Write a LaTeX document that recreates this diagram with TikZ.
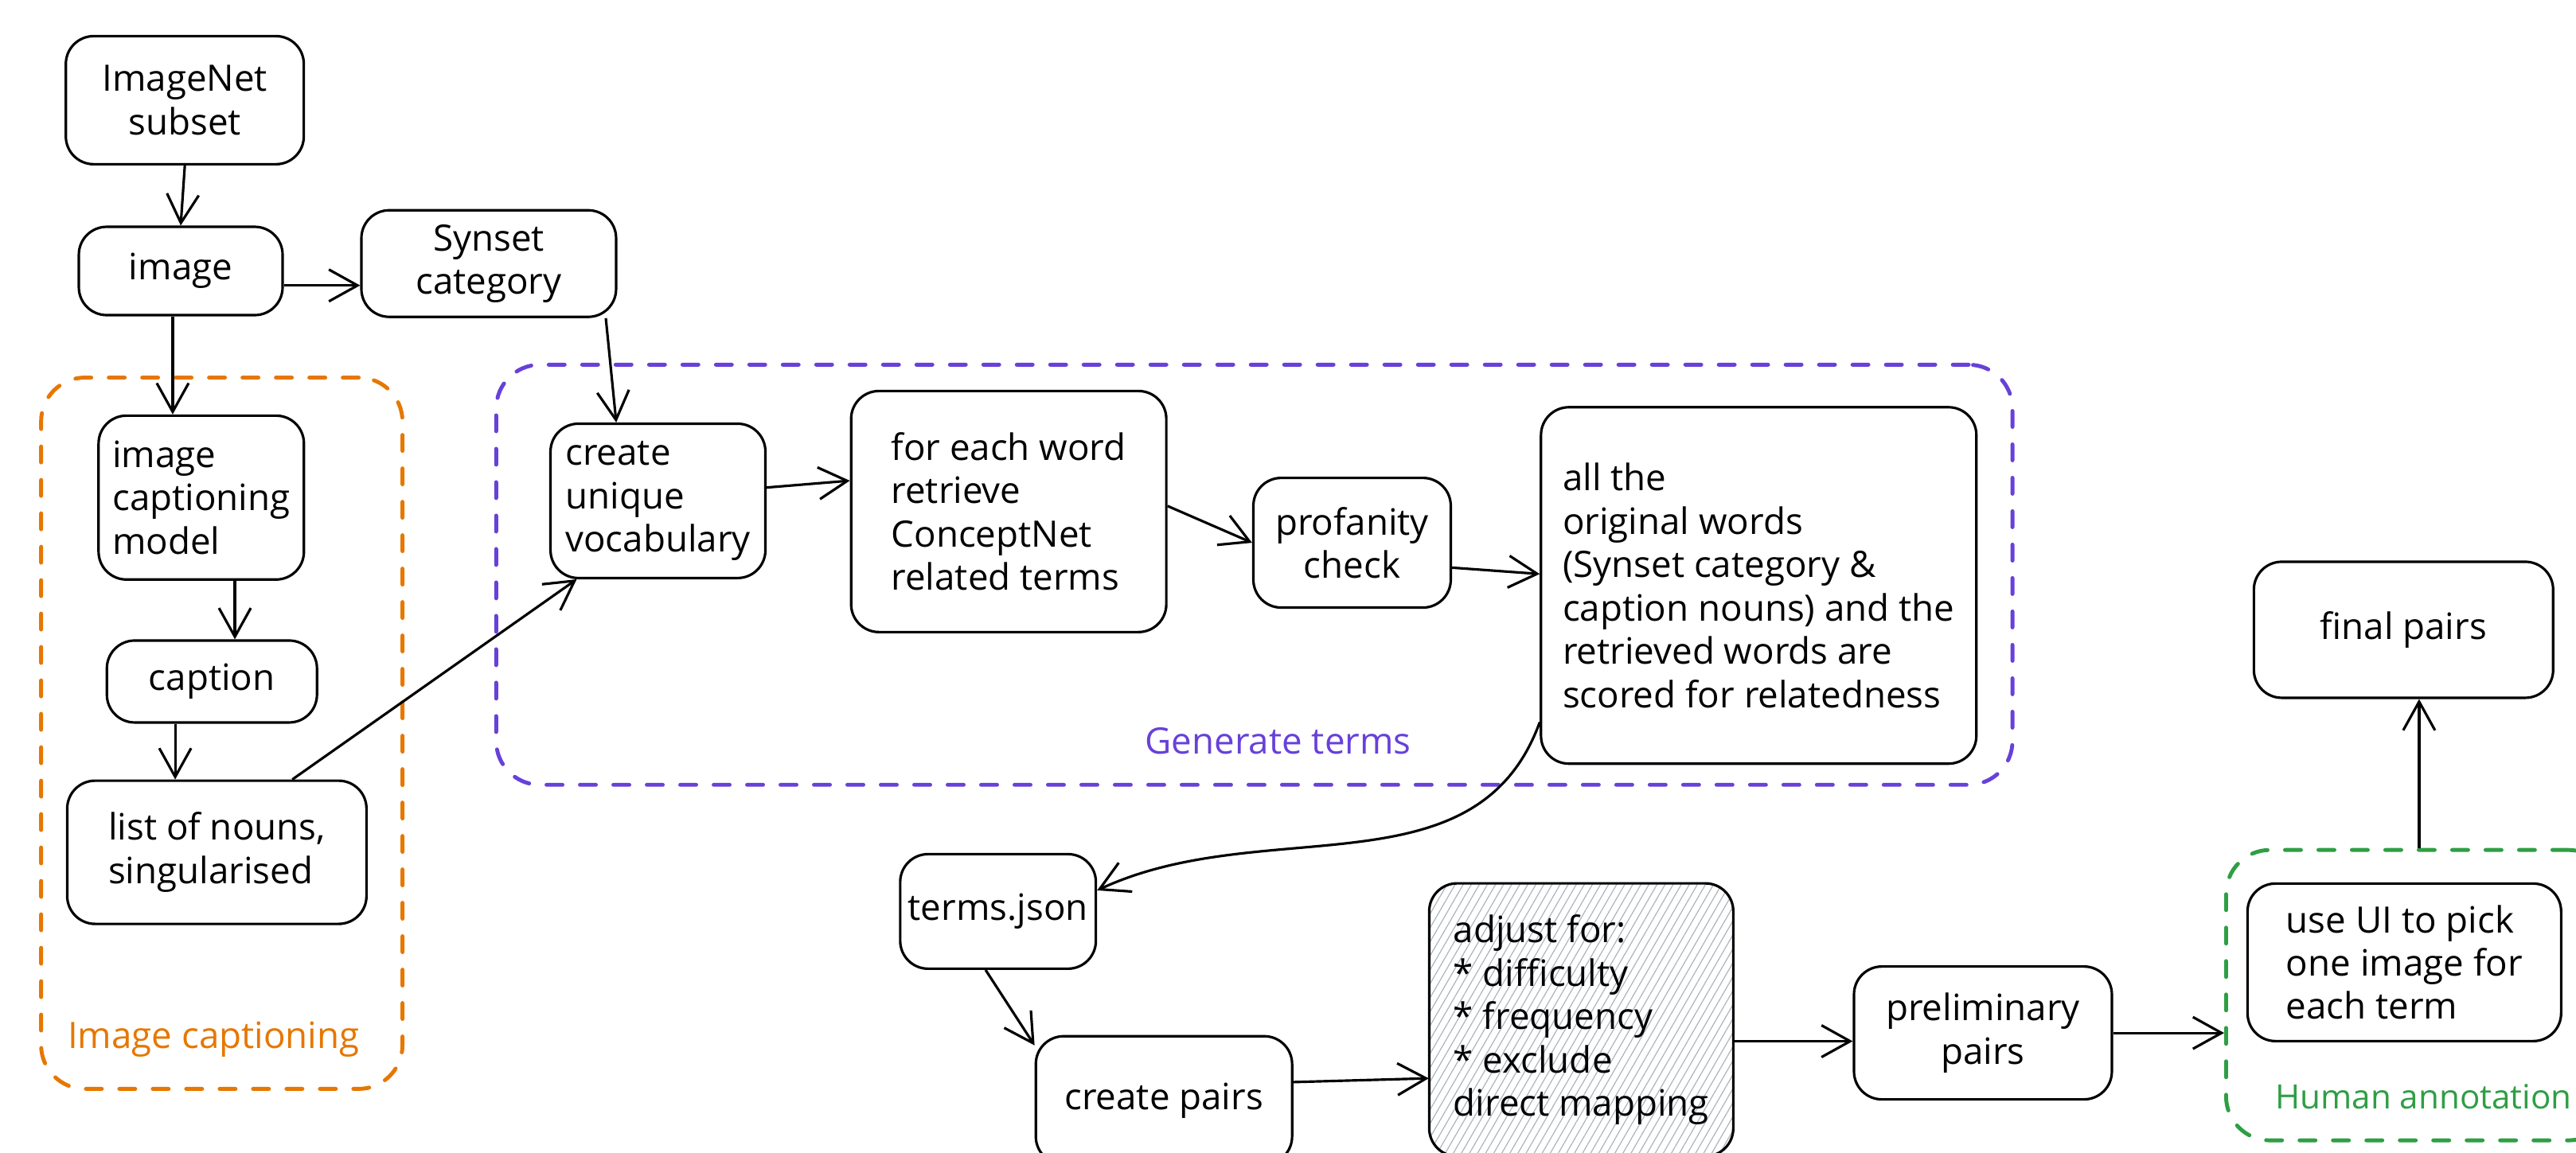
\documentclass[tikz,border=0pt]{standalone}
\usepackage{fontspec}
\setmainfont{Open Sans}
\usetikzlibrary{arrows.meta,patterns.meta}

\definecolor{capOrange}{HTML}{E67700}
\definecolor{genViolet}{HTML}{6741D9}
\definecolor{humGreen}{HTML}{2F9E44}
\definecolor{hatchGray}{HTML}{ADB5BD}

\begin{document}
\begin{tikzpicture}
[x=0.2064mm, y=-0.2064mm,%
  every node/.style={font=\fontsize{13}{15.5}\selectfont},%
  boxDecorate/.style={shape=rectangle,draw,line width=0.9pt,
    rounded corners=3.5mm,inner sep=1mm,align=center},%
  textDecorate/.style={boxDecorate,align=left},%
  groupDecorate/.style={shape=rectangle,draw=#1,line width=1.4pt,
    dash pattern=on 2mm off 2.2mm,line cap=round,rounded corners=5.5mm},%
  arrowDecorate/.style={-{Straight Barb[length=3.6mm,width=4mm]},line width=0.9pt}]
\useasboundingbox (0,0) rectangle (1568,702);
\clip (0,0) rectangle (1568,702);

%% dashed groups
\node (capGroup) at (135,446.5) [groupDecorate=capOrange,minimum width=45.4mm,minimum height=89.4mm] {};
\node (genGroup) at (763.5,350) [groupDecorate=genViolet,minimum width=190.5mm,minimum height=52.8mm] {};
\node (humGroup) at (1472.5,606) [groupDecorate=humGreen,minimum width=48.5mm,minimum height=36.5mm] {};
\node (capLabel) at (130,633) [text=capOrange] {Image captioning};
\node (genLabel) at (778,451) [text=genViolet] {Generate terms};
\node (humLabel) at (1379,668) [anchor=west,text=humGreen,font=\fontsize{12}{14}\selectfont] {Human annotation};

%% boxes
\node (imagenet) at (112.5,61) [boxDecorate,minimum width=29.9mm,minimum height=16.1mm] {ImageNet\\subset};
\node (image) at (110,165) [boxDecorate,minimum width=25.6mm,minimum height=11.1mm] {image};
\node (synset) at (297.5,160.5) [boxDecorate,minimum width=32mm,minimum height=13.4mm] {Synset\\category};
\node (model) at (122.5,303) [textDecorate,minimum width=25.8mm,minimum height=20.6mm] {image\\captioning\\model};
\node (caption) at (129,415) [boxDecorate,minimum width=26.4mm,minimum height=10.3mm] {caption};
\node (nouns) at (132,519) [textDecorate,minimum width=37.6mm,minimum height=18mm] {list of nouns,\\singularised};
\node (vocab) at (400.5,305) [textDecorate,minimum width=27mm,minimum height=19.4mm] {create\\unique\\vocabulary};
\node (concept) at (614,311.5) [textDecorate,minimum width=39.6mm,minimum height=30.3mm] {for each word\\retrieve\\ConceptNet\\related terms};
\node (profanity) at (823,330.5) [boxDecorate,minimum width=24.8mm,minimum height=16.3mm] {profanity\\check};
\node (scored) at (1070.5,356.5) [textDecorate,minimum width=54.7mm,minimum height=44.8mm] {all the\\original words\\(Synset category \&\\caption nouns) and the\\retrieved words are\\scored for relatedness};
\node (terms) at (607.5,555) [boxDecorate,minimum width=23.7mm,minimum height=14.4mm] {terms.json};
\node (pairs) at (708.5,670) [boxDecorate,minimum width=32.2mm,minimum height=16.1mm] {create pairs};
\node (adjust) at (962.5,621) [textDecorate,minimum width=38.2mm,minimum height=34.3mm,
  pattern={Lines[angle=60,distance=2.5pt,line width=0.35pt]},pattern color=hatchGray] {adjust for:\\* difficulty\\* frequency\\* exclude\\direct mapping};
\node (prelim) at (1207,629) [boxDecorate,minimum width=32.4mm,minimum height=16.7mm] {preliminary\\pairs};
\node (pick) at (1463.5,586) [textDecorate,minimum width=39.4mm,minimum height=19.8mm] {use UI to pick\\one image for\\each term};
\node (final) at (1463,383.5) [boxDecorate,minimum width=37.6mm,minimum height=17.1mm] {final pairs};

%% connectors
\path
\foreach \startnode/\endnode in {
  imagenet.south/image.north, image.-8/image.-8 -| synset.west,
  image.-100/image.-100 |- model.north, synset.-25/vocab.118,
  model.-68/model.-68 |- caption.north, caption.-131/caption.-131 |- nouns.north,
  nouns.44/vocab.-136, vocab.7/concept.169, concept.2/profanity.west,
  profanity.-14/scored.177, terms.-102/pairs.157, pairs.8/adjust.-159,
  adjust.-8/adjust.-8 -| prelim.west, prelim.east/prelim.east -| humGroup.west,
  humGroup.north/humGroup.north |- final.south}
{
  (\startnode) edge[arrowDecorate] (\endnode)
};
\draw[arrowDecorate] (scored.-148) to[out=-110,in=25] (terms.12);
\end{tikzpicture}
\end{document}
